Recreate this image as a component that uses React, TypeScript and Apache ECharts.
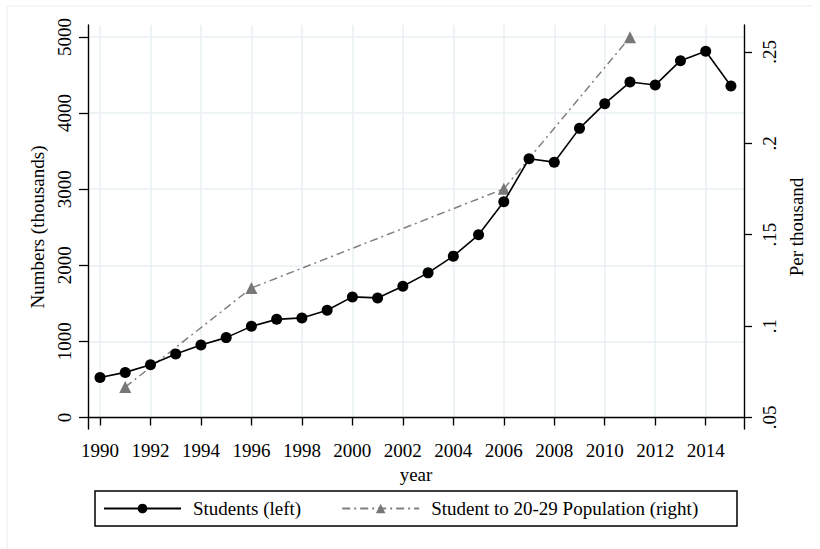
import React, { useEffect, useRef } from "react";
import * as echarts from "echarts";

const studentYears = [1990, 1991, 1992, 1993, 1994, 1995, 1996, 1997, 1998, 1999, 2000, 2001, 2002, 2003, 2004, 2005, 2006, 2007, 2008, 2009, 2010, 2011, 2012, 2013, 2014, 2015];
const students = [526, 592, 693, 834, 952, 1049, 1197, 1289, 1308, 1408, 1584, 1571, 1724, 1900, 2120, 2400, 2834, 3400, 3355, 3799, 4124, 4408, 4368, 4689, 4812, 4355];
const ratioYears = [1991, 1996, 2006, 2011];
const ratio = [0.0666, 0.1208, 0.1751, 0.2581];
const xTicks = [1990, 1992, 1994, 1996, 1998, 2000, 2002, 2004, 2006, 2008, 2010, 2012, 2014];
const leftTicks = [0, 1000, 2000, 3000, 4000, 5000];
const rightTicks = [0.05, 0.1, 0.15, 0.2, 0.25];

const FONT = '"Liberation Serif", "Times New Roman", serif';
const FS = 19;

export default function App() {
  const ref = useRef<HTMLDivElement>(null);
  useEffect(() => {
    if (!ref.current) return;
    const chart = echarts.init(ref.current, undefined, { renderer: "svg" });
    const axisLine = { show: true, lineStyle: { color: "#000", width: 1.4 } };
    const tick = (vals: number[], len: number) => ({ show: true, length: len, customValues: vals, lineStyle: { color: "#000", width: 1.3 } });
    const grid = { show: true, lineStyle: { color: "#e8f0f2", width: 1.5 } };
    chart.setOption({
      animation: false,
      backgroundColor: "#fff",
      textStyle: { fontFamily: FONT },
      grid: { left: 88, right: 76, top: 25, bottom: 120, containLabel: false },
      legend: {
        left: 103,
        top: 499,
        padding: 0,
        itemWidth: 77,
        itemHeight: 12,
        itemGap: 40,
        textStyle: { fontFamily: FONT, fontSize: FS, color: "#000", padding: [0, 0, 0, 7] },
        data: ["Students (left)", "Student to 20-29 Population (right)"],
      },
      graphic: [
        { type: "rect", shape: { x: 95, y: 491, width: 642, height: 35 }, style: { fill: "#fff", stroke: "#000", lineWidth: 1.5 }, z: -1 },
        { type: "line", shape: { x1: 7, y1: 6, x2: 813, y2: 6 }, style: { stroke: "#e6eef0", lineWidth: 1 } },
        { type: "line", shape: { x1: 7, y1: 6, x2: 7, y2: 549 }, style: { stroke: "#e6eef0", lineWidth: 1 } },
      ],
      xAxis: {
        type: "value",
        min: 1989.5245,
        max: 2015.5177,
        name: "year",
        nameLocation: "middle",
        nameGap: 30,
        nameTextStyle: { fontFamily: FONT, fontSize: FS, color: "#000" },
        axisLine,
        axisTick: tick(xTicks, 8),
        axisLabel: { customValues: xTicks, fontFamily: FONT, fontSize: FS, color: "#000", margin: 12, formatter: (v: number) => String(v) },
        splitLine: grid,
      },
      yAxis: [
        {
          type: "value",
          position: "left",
          min: -152,
          max: 5157.6,
          name: "Numbers (thousands)",
          nameLocation: "middle",
          nameRotate: 90,
          nameGap: 36,
          nameTextStyle: { fontFamily: FONT, fontSize: FS, color: "#000" },
          axisLine,
          axisTick: tick(leftTicks, 9),
          axisLabel: { customValues: leftTicks, rotate: 90, fontFamily: FONT, fontSize: FS, color: "#000", margin: 14, formatter: (v: number) => String(v) },
          splitLine: grid,
        },
        {
          type: "value",
          position: "right",
          min: 0.04366,
          max: 0.26477,
          name: "Per thousand",
          nameLocation: "middle",
          nameRotate: 90,
          nameGap: 36,
          nameTextStyle: { fontFamily: FONT, fontSize: FS, color: "#000" },
          axisLine,
          axisTick: tick(rightTicks, 8),
          axisLabel: {
            customValues: rightTicks,
            rotate: 90,
            fontFamily: FONT,
            fontSize: FS,
            color: "#000",
            margin: 16,
            formatter: (v: number) => String(Math.round(v * 100) / 100).replace(/^0/, ""),
          },
          splitLine: { show: false },
        },
      ],
      series: [
        {
          name: "Students (left)",
          type: "line",
          yAxisIndex: 0,
          data: studentYears.map((y, i) => [y, students[i]]),
          symbol: "circle",
          symbolSize: 11,
          itemStyle: { color: "#000" },
          lineStyle: { color: "#000", width: 1.6 },
          z: 3,
        },
        {
          name: "Student to 20-29 Population (right)",
          type: "line",
          yAxisIndex: 1,
          data: ratioYears.map((y, i) => [y, ratio[i]]),
          symbol: "triangle",
          symbolSize: 12,
          itemStyle: { color: "#777" },
          lineStyle: { color: "#808080", width: 1.5, type: [8, 4, 2, 4] },
          z: 2,
        },
      ],
    });
    return () => chart.dispose();
  }, []);
  return <div ref={ref} style={{ position: "fixed", left: 0, top: 0, width: 820, height: 549 }} />;
}
